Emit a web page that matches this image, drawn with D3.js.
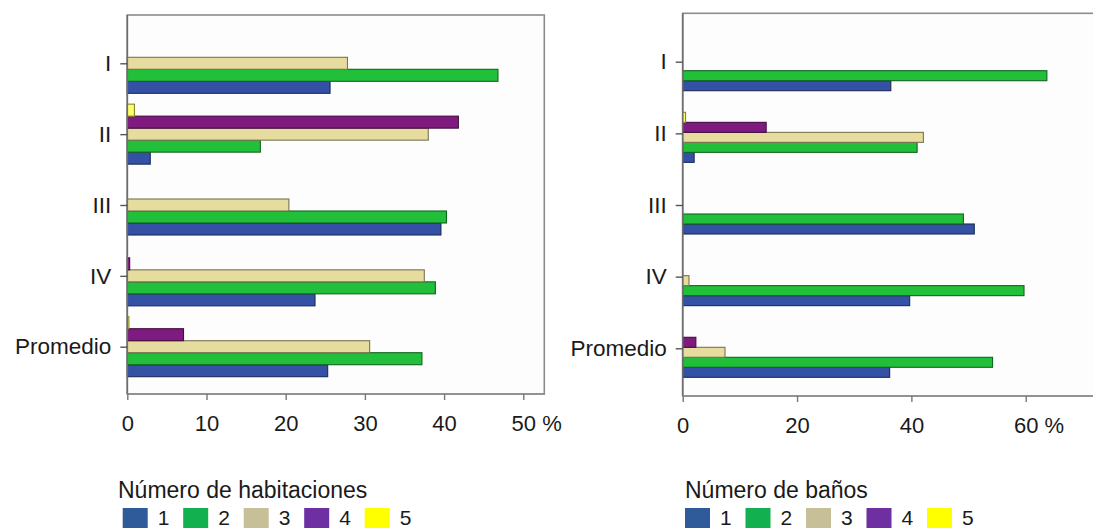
<!DOCTYPE html>
<html><head><meta charset="utf-8">
<script src="https://cdn.jsdelivr.net/npm/d3@7"></script>
<style>
body{margin:0;background:#fff}
svg{display:block}
text{font-family:"Liberation Sans",Arial,sans-serif;fill:#1a1a1a}
</style>
</head><body>
<svg id="c" width="1093" height="528"></svg>
<script>
const categories = ["I", "II", "III", "IV", "Promedio"];
const seriesKeys = ["1", "2", "3", "4", "5"];

// Número de habitaciones (%), one array per series, in category order
const hab1 = [25.6, 2.9, 39.6, 23.7, 25.3];
const hab2 = [46.8, 16.8, 40.3, 38.9, 37.2];
const hab3 = [27.8, 38.0, 20.4, 37.5, 30.6];
const hab4 = [0, 41.8, 0, 0.3, 7.1];
const hab5 = [0, 0.9, 0, 0, 0.2];

// Número de baños (%)
const ban1 = [36.4, 2.0, 51.0, 39.7, 36.2];
const ban2 = [63.7, 41.0, 49.1, 59.7, 54.2];
const ban3 = [0, 42.1, 0, 1.1, 7.4];
const ban4 = [0, 14.6, 0, 0, 2.3];
const ban5 = [0, 0.5, 0, 0, 0];

const habTicks = [0, 10, 20, 30, 40, 50];
const banTicks = [0, 20, 40, 60];
const legendTitles = ["Número de habitaciones", "Número de baños"];

const barColors = ["#3451a6", "#22bf3b", "#e6dc9d", "#7f1a7e", "#ffff66"];
const legendColors = ["#2f5b9a", "#12b04e", "#c7bf98", "#6d2fa2", "#ffff00"];

const svg = d3.select("#c");

const panels = [
  {left: 127.3, top: 15, width: 417, bottom: 394, pxPerUnit: 7.92, ticks: habTicks,
   series: [hab1, hab2, hab3, hab4, hab5], bandH: 12, catRange: [63.3, 346.7], groupOffset: 0,
   title: legendTitles[0], titleX: 118, legendX: 122.7},
  {left: 682.7, top: 13.3, width: 440, bottom: 396, pxPerUnit: 5.717, ticks: banTicks,
   series: [ban1, ban2, ban3, ban4, ban5], bandH: 10, catRange: [61.7, 348.3], groupOffset: 4,
   title: legendTitles[1], titleX: 685, legendX: 685}
];

panels.forEach(p => {
  const g = svg.append("g");
  const x = d3.scaleLinear().domain([0, p.width / p.pxPerUnit]).range([p.left, p.left + p.width]);
  const y = d3.scalePoint().domain(categories).range(p.catRange);
  const inner = d3.scaleBand().domain(seriesKeys.slice().reverse())
    .range([-2.5 * p.bandH + p.groupOffset, 2.5 * p.bandH + p.groupOffset]);

  // plot frame
  g.append("rect").attr("x", p.left).attr("y", p.top)
    .attr("width", p.width).attr("height", p.bottom - p.top)
    .attr("fill", "#fdfdfd").attr("stroke", "#8c8c8c").attr("stroke-width", 1.6);

  // bars
  p.series.forEach((vals, si) => {
    const data = categories.map((c, i) => ({c, v: vals[i]})).filter(d => d.v > 0);
    g.append("g").selectAll("rect").data(data).join("rect")
      .attr("x", x(0))
      .attr("y", d => y(d.c) + inner(seriesKeys[si]))
      .attr("width", d => x(d.v) - x(0))
      .attr("height", inner.bandwidth())
      .attr("fill", barColors[si])
      .attr("stroke", d3.color(barColors[si]).darker(1.8))
      .attr("stroke-width", 1.1);
  });

  // left axis line
  g.append("line").attr("x1", p.left).attr("x2", p.left)
    .attr("y1", p.top).attr("y2", p.bottom)
    .attr("stroke", "#6e6e6e").attr("stroke-width", 1.6);

  // y axis
  const ya = g.append("g").attr("transform", `translate(${p.left},0)`)
    .call(d3.axisLeft(y).tickSize(7).tickPadding(9));
  ya.select(".domain").remove();
  ya.selectAll(".tick line").attr("stroke", "#555").attr("stroke-width", 1.4);
  ya.selectAll(".tick text").attr("font-size", 22.5).attr("fill", "#1a1a1a")
    .attr("font-family", '"Liberation Sans",Arial,sans-serif');

  // x axis
  const xa = g.append("g").attr("transform", `translate(0,${p.bottom})`)
    .call(d3.axisBottom(x).tickValues(p.ticks).tickSize(6).tickPadding(15).tickSizeOuter(0));
  xa.select(".domain").attr("stroke", "#8c8c8c").attr("stroke-width", 1.6)
    .attr("d", `M${p.left},0H${p.left + p.width}`);
  xa.selectAll(".tick line").attr("stroke", "#777").attr("stroke-width", 1.4);
  xa.selectAll(".tick text").attr("font-size", 22).attr("fill", "#1a1a1a")
    .attr("font-family", '"Liberation Sans",Arial,sans-serif');
  const last = xa.selectAll(".tick").filter(d => d === p.ticks[p.ticks.length - 1]);
  const lt = last.select("text");
  const w = lt.node().getComputedTextLength();
  last.append("text").text("\u00a0%").attr("x", w / 2).attr("y", lt.attr("y"))
    .attr("dy", lt.attr("dy")).attr("text-anchor", "start")
    .attr("font-size", 22).attr("fill", "#1a1a1a")
    .attr("font-family", '"Liberation Sans",Arial,sans-serif');

  // legend
  const lg = svg.append("g");
  lg.append("text").attr("x", p.titleX).attr("y", 498).attr("font-size", 23).text(p.title);
  const lx = d3.scaleLinear().domain([0, 1]).range([p.legendX, p.legendX + 60.5]);
  seriesKeys.forEach((k, i) => {
    lg.append("rect").attr("x", lx(i)).attr("y", 508).attr("width", 25).attr("height", 25)
      .attr("fill", legendColors[i]);
    lg.append("text").attr("x", lx(i) + 35).attr("y", 525).attr("font-size", 21).text(k);
  });
});
</script>
</body></html>
